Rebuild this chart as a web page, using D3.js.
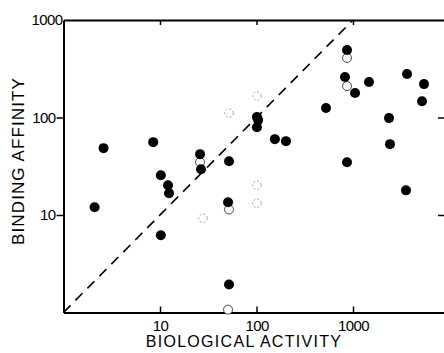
<!DOCTYPE html>
<html>
<head>
<meta charset="utf-8">
<script src="https://cdn.jsdelivr.net/npm/d3@7"></script>
<style>
  body { margin: 0; background: #fff; }
  svg { display: block; }
  text { font-family: "Liberation Sans", Arial, sans-serif; fill: #000; }
</style>
</head>
<body>
<div id="chart"></div>
<script>
// biological activity (x) vs binding affinity (y)
const filledX = [2.1, 2.6, 8.5, 10.2, 12.1, 12.4, 10.2, 26, 26.6, 51.9, 50.7, 51.9,
  101, 104, 101, 155, 202, 525, 867, 826, 1050, 1465, 3630, 5440, 5190, 2360, 2417, 867, 3540];
const filledY = [12.0, 48.5, 55.9, 25.6, 20.2, 16.7, 6.2, 42.1, 29.5, 35.6, 13.5, 1.94,
  101, 94, 79.6, 60, 57.2, 125, 493, 260, 178, 231, 279, 220, 147, 98.6, 53.3, 34.8, 17.9];

const openX = [26, 867, 867, 51.9, 50.7];
const openY = [34.8, 408, 210, 11.4, 1.07];

// faint, broken open circles
const faintX = [101, 51.9, 101, 101, 27.9];
const faintY = [166, 111, 20.2, 13.2, 9.25];

const xTicks = [10, 100, 1000];
const yTicks = [10, 100, 1000];
const rightTicks = [10, 100];

const width = 444, height = 353;
const margin = { top: 20, right: 0, bottom: 40.5, left: 63.5 };

const svg = d3.select('#chart').append('svg')
  .attr('width', width)
  .attr('height', height);

const x = d3.scaleLog()
  .domain([1, Math.pow(10, (width - margin.left) / 96.5)])
  .range([margin.left, width]);

const y = d3.scaleLog()
  .domain([1, 1000])
  .range([height - margin.bottom, margin.top]);

const fmt = d3.format('d');

// bottom axis, ticks pointing in
const gx = svg.append('g')
  .attr('transform', `translate(0,${height - margin.bottom})`)
  .call(d3.axisBottom(x).tickValues(xTicks).tickFormat(fmt).tickSizeInner(-6).tickSizeOuter(0).tickPadding(8));
gx.select('.domain').attr('stroke-width', 2);
gx.selectAll('.tick line').attr('stroke-width', 1.5);
gx.selectAll('.tick text').style('font-size', '15px').style('letter-spacing', '-0.6px');

// top border with small inward ticks
const gt = svg.append('g')
  .attr('transform', `translate(0,${margin.top})`)
  .call(d3.axisTop(x).tickValues(xTicks).tickFormat('').tickSizeInner(-5).tickSizeOuter(0));
gt.select('.domain').attr('stroke-width', 2);
gt.selectAll('.tick line').attr('stroke-width', 1.5);

// left axis, ticks pointing out
const gy = svg.append('g')
  .attr('transform', `translate(${margin.left},0)`)
  .call(d3.axisLeft(y).tickValues(yTicks).tickFormat(fmt).tickSizeInner(7).tickSizeOuter(0).tickPadding(1));
gy.select('.domain').attr('stroke-width', 2);
gy.selectAll('.tick line').attr('stroke-width', 1.5)
  .filter(d => d === 1000).remove();
gy.selectAll('.tick text').style('font-size', '15px').style('letter-spacing', '-0.6px')
  .filter(d => d === 1000).attr('x', -1);

// right side: only two inward ticks
const gr = svg.append('g')
  .attr('transform', `translate(${width},0)`)
  .call(d3.axisLeft(y).tickValues(rightTicks).tickFormat('').tickSizeInner(6).tickSizeOuter(0));
gr.select('.domain').remove();
gr.selectAll('.tick line').attr('stroke-width', 1.5);

// line of identity
svg.append('line')
  .attr('x1', x(1)).attr('y1', y(1))
  .attr('x2', x(1000)).attr('y2', y(1000))
  .attr('stroke', '#000')
  .attr('stroke-width', 1.6)
  .attr('stroke-dasharray', '10,7');

svg.append('g').selectAll('circle')
  .data(faintX.map((v, i) => [v, faintY[i]]))
  .join('circle')
  .attr('cx', d => x(d[0]))
  .attr('cy', d => y(d[1]))
  .attr('r', 4.3)
  .attr('fill', 'none')
  .attr('stroke', '#888')
  .attr('stroke-width', 0.8)
  .attr('stroke-dasharray', '2,2');

svg.append('g').selectAll('circle')
  .data(openX.map((v, i) => [v, openY[i]]))
  .join('circle')
  .attr('cx', d => x(d[0]))
  .attr('cy', d => y(d[1]))
  .attr('r', 4.5)
  .attr('fill', '#fff')
  .attr('stroke', '#333')
  .attr('stroke-width', 0.9);

svg.append('g').selectAll('circle')
  .data(filledX.map((v, i) => [v, filledY[i]]))
  .join('circle')
  .attr('cx', d => x(d[0]))
  .attr('cy', d => y(d[1]))
  .attr('r', 5)
  .attr('fill', '#000');

// axis titles
svg.append('text')
  .attr('x', 244)
  .attr('y', 347)
  .attr('text-anchor', 'middle')
  .style('font-size', '16px')
  .style('letter-spacing', '1.3px')
  .text('BIOLOGICAL ACTIVITY');

svg.append('text')
  .attr('transform', 'translate(24,161) rotate(-90)')
  .attr('text-anchor', 'middle')
  .style('font-size', '17px')
  .style('letter-spacing', '1.1px')
  .text('BINDING AFFINITY');
</script>
</body>
</html>
